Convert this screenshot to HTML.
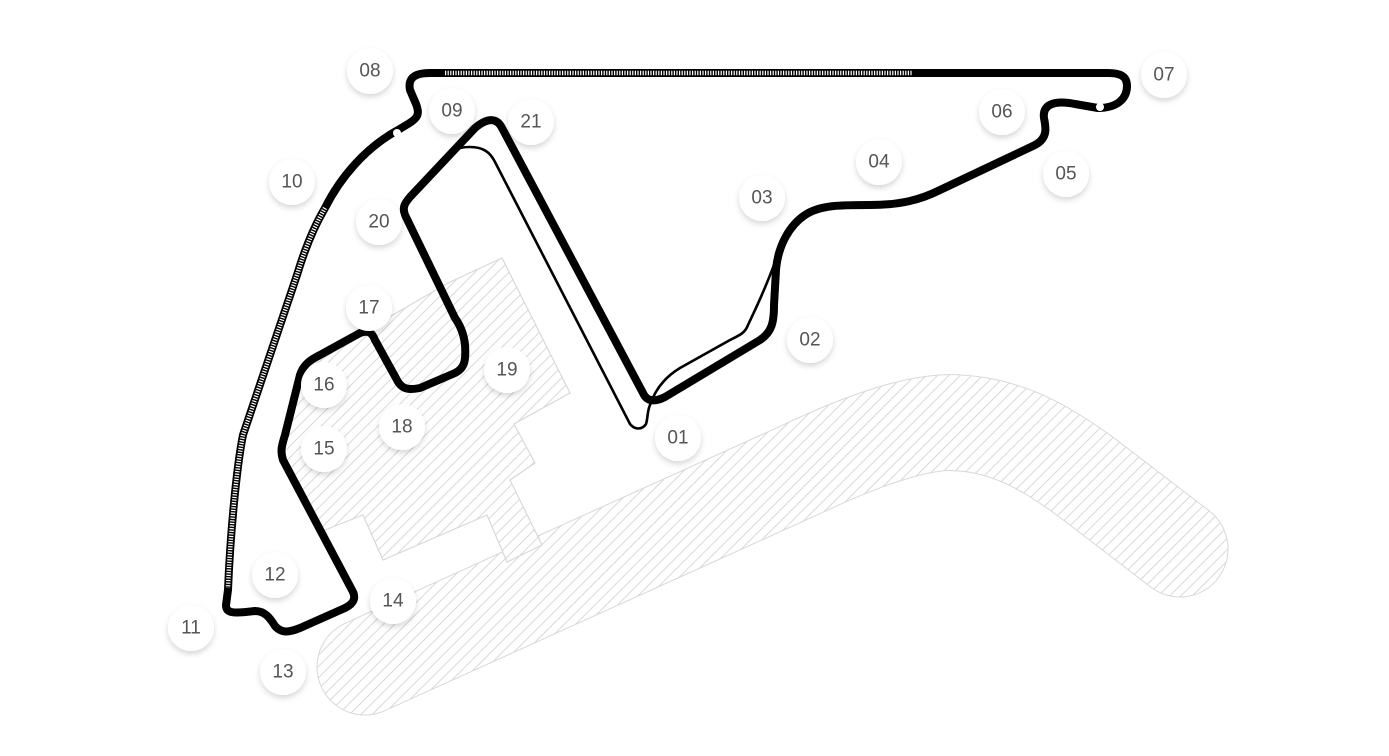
<!DOCTYPE html>
<html><head><meta charset="utf-8"><style>
html,body{margin:0;padding:0;background:#fff;}
svg{display:block;}
text{font-family:"Liberation Sans",sans-serif;font-size:19px;fill:#555;text-anchor:middle;dominant-baseline:central;}
</style></head><body>
<svg width="1389" height="756" viewBox="0 0 1389 756" xmlns="http://www.w3.org/2000/svg">
<defs>
<pattern id="h" width="8" height="8" patternUnits="userSpaceOnUse" patternTransform="rotate(45)">
<rect width="8" height="8" fill="#fff"/>
<line x1="0" y1="0" x2="0" y2="8" stroke="#cfcfcf" stroke-width="1.6"/>
</pattern>
<filter id="sh" x="-50%" y="-50%" width="200%" height="200%">
<feDropShadow dx="0" dy="3" stdDeviation="3" flood-color="#000" flood-opacity="0.16"/>
</filter>
</defs>

<path d="M365,667 L800,470 C880,432 930,420 960,423 C1010,426 1050,450 1090,480 L1180,549" fill="none" stroke="#d8d8d8" stroke-width="97" stroke-linecap="round" stroke-linejoin="round"/>
<path d="M365,667 L800,470 C880,432 930,420 960,423 C1010,426 1050,450 1090,480 L1180,549" fill="none" stroke="url(#h)" stroke-width="95" stroke-linecap="round" stroke-linejoin="round"/>

<polygon points="448,283 502,258 570,393 514,424 535,463 510,480 542,545 507,562 487,515 383,560 363,515 325,530 317,525 283,460 287,440 300,375 350,340" fill="url(#h)" stroke="#d8d8d8" stroke-width="1.2"/>

<path d="M775,262 C765,290 755,310 748,325 C745,333 740,335 730,340 L680,368 C665,377 655,390 650,405 C647,412 648,418 646,424 C642,430 635,430 630,424 L495,162 C490,152 483,147 470,147 C462,147 458,148 455,150" fill="none" stroke="#000" stroke-width="2.6" stroke-linecap="round" stroke-linejoin="round"/>

<path d="M643,393 C647,402 655,402 665,397 L760,340 C772,332 774,322 774,305 L776,270 C778,245 790,225 805,215 C820,205 840,205 870,205 C900,205 920,200 940,190 L1035,145 C1048,138 1046,128 1044,118 C1042,104 1055,100 1075,104 L1098,108 C1118,108 1127,98 1127,86 C1127,76 1120,73 1108,73 L430,73 C412,73 408,80 410,90 L416,104 C420,114 418,118 408,124 L398,130 C365,148 340,178 325,208 C312,230 303,255 297,275 L243,435 C236,470 230,540 228,590 L226,605 C226,613 232,614 255,611 C265,611 270,618 275,626 C282,634 290,632 300,628 L345,608 C355,603 356,597 352,590 L283,460 C280,450 282,445 285,435 L300,375 C303,365 310,360 320,355 L360,333 C370,329 373,335 375,340 L397,380 C402,390 410,390 420,388 L455,373 C465,368 466,360 465,345 C464,335 460,325 455,318 L405,215 C402,207 405,203 410,197 L475,128 C488,117 497,118 502,128 Z" fill="none" stroke="#000" stroke-width="8" stroke-linecap="round" stroke-linejoin="round"/>

<path d="M445,73 L913,73" stroke="#fff" stroke-width="4.5" stroke-dasharray="1.2 1.4" fill="none"/>
<path d="M325,208 C312,230 303,255 297,275 L243,435 C236,470 230,540 228,588" stroke="#fff" stroke-width="4.5" stroke-dasharray="1.2 1.4" fill="none"/>

<circle cx="397" cy="133" r="4" fill="#fff"/>
<circle cx="1100" cy="107" r="4" fill="#fff"/>

<g filter="url(#sh)" fill="#fff">
<circle cx="370" cy="71" r="23"/><circle cx="452" cy="111" r="23"/><circle cx="531" cy="122" r="23"/>
<circle cx="292" cy="182" r="23"/><circle cx="379" cy="222" r="23"/><circle cx="369" cy="308" r="23"/>
<circle cx="324" cy="385" r="23"/><circle cx="507" cy="370" r="23"/><circle cx="402" cy="427" r="23"/>
<circle cx="324" cy="449" r="23"/><circle cx="678" cy="438" r="23"/><circle cx="810" cy="340" r="23"/>
<circle cx="762" cy="198" r="23"/><circle cx="879" cy="162" r="23"/><circle cx="1066" cy="174" r="23"/>
<circle cx="1002" cy="112" r="23"/><circle cx="1164" cy="75" r="23"/><circle cx="275" cy="575" r="23"/>
<circle cx="191" cy="628" r="23"/><circle cx="393" cy="601" r="23"/><circle cx="283" cy="672" r="23"/>
</g>
<text x="370" y="71">08</text><text x="452" y="111">09</text><text x="531" y="122">21</text>
<text x="292" y="182">10</text><text x="379" y="222">20</text><text x="369" y="308">17</text>
<text x="324" y="385">16</text><text x="507" y="370">19</text><text x="402" y="427">18</text>
<text x="324" y="449">15</text><text x="678" y="438">01</text><text x="810" y="340">02</text>
<text x="762" y="198">03</text><text x="879" y="162">04</text><text x="1066" y="174">05</text>
<text x="1002" y="112">06</text><text x="1164" y="75">07</text><text x="275" y="575">12</text>
<text x="191" y="628">11</text><text x="393" y="601">14</text><text x="283" y="672">13</text>
</svg>
</body></html>
